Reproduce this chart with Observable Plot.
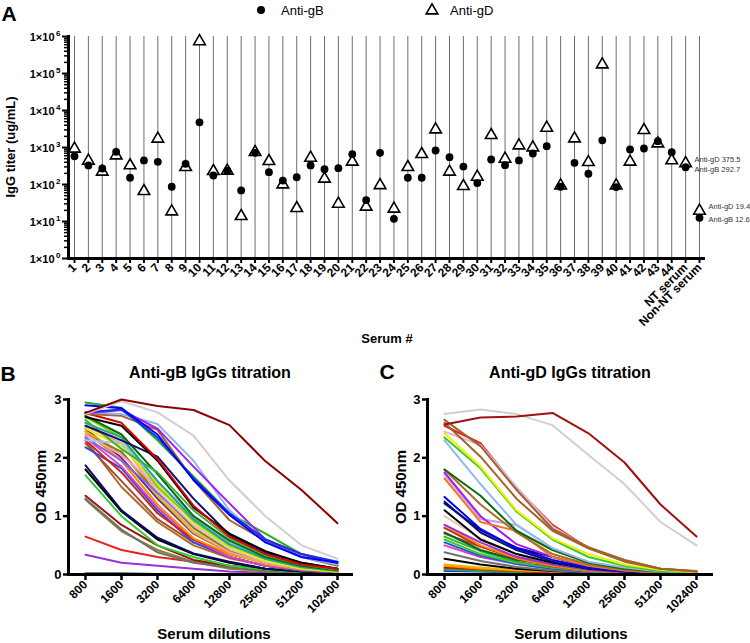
<!DOCTYPE html>
<html><head><meta charset="utf-8">
<script src="https://cdn.jsdelivr.net/npm/d3@7"></script>
<script src="https://cdn.jsdelivr.net/npm/@observablehq/plot@0.6"></script>
<style>
body{margin:0;background:#fff;font-family:"Liberation Sans",Arial,sans-serif;color:#000;}
#root{position:relative;width:750px;height:643px;overflow:hidden;}
#root svg{position:absolute;}
.t{position:absolute;white-space:nowrap;line-height:1;}
</style></head>
<body><div id="root"></div>
<script>
// ---------- DATA ----------
const serums = ["1","2","3","4","5","6","7","8","9","10","11","12","13","14","15","16","17","18","19","20","21","22","23","24","25","26","27","28","29","30","31","32","33","34","35","36","37","38","39","40","41","42","43","44","NT serum","Non-NT serum"];
const antiGB = [580,327,271,766,152,446,411,87,363,4800,175,235,69,720,215,128,157,327,260,276,660,38,718,11.8,152,152,830,547,306,109,474,332,446,688,1086,87,385,195,1560,85,883,940,1480,748,292.7,12.6];
const antiGD = [922,437,220,608,327,66,1718,18.6,294,740000,229,235,13.9,747,427,100,22.9,525,143,30,410,25,95,22,294,660,3060,220,90,161,2150,494,1133,1000,3400,94,1750,400,175000,94,410,2940,1283,446,375.5,19.4];
const yMajor = [1,10,100,1000,10000,100000,1000000];
const dilutions = ["800","1600","3200","6400","12800","25600","51200","102400"];

const gbCurves = [
  [0.02,0.02,0.01,0.01,0.01,0.01,0.01,0.01],
  [0.34,0.20,0.15,0.10,0.05,0.03,0.02,0.01],
  [0.65,0.42,0.30,0.22,0.15,0.08,0.04,0.02],
  [1.28,0.74,0.42,0.22,0.10,0.05,0.02,0.01],
  [1.30,0.77,0.38,0.20,0.12,0.06,0.03,0.02],
  [1.35,0.85,0.50,0.25,0.15,0.08,0.04,0.02],
  [1.70,1.00,0.50,0.30,0.15,0.08,0.04,0.02],
  [1.80,1.08,0.60,0.35,0.20,0.10,0.05,0.03],
  [1.87,1.10,0.63,0.36,0.22,0.10,0.05,0.03],
  [2.30,1.50,0.90,0.50,0.28,0.15,0.07,0.04],
  [2.25,1.60,0.95,0.55,0.30,0.15,0.07,0.03],
  [2.18,1.82,1.10,0.55,0.30,0.15,0.07,0.04],
  [2.35,1.85,1.15,0.60,0.30,0.15,0.08,0.04],
  [2.30,1.75,1.05,0.60,0.35,0.20,0.10,0.05],
  [2.45,1.95,1.20,0.62,0.35,0.20,0.10,0.05],
  [2.50,2.00,1.30,0.70,0.38,0.20,0.10,0.05],
  [2.45,2.10,1.35,0.72,0.38,0.18,0.09,0.05],
  [2.40,2.10,1.40,0.80,0.40,0.20,0.10,0.05],
  [2.55,2.25,1.40,0.75,0.38,0.20,0.10,0.05],
  [2.35,1.95,1.40,0.85,0.45,0.22,0.10,0.05],
  [2.60,2.30,1.45,0.85,0.45,0.22,0.10,0.05],
  [2.40,2.05,1.50,0.95,0.50,0.26,0.12,0.06],
  [2.50,2.20,1.55,0.90,0.48,0.24,0.10,0.05],
  [2.70,2.35,1.50,0.92,0.50,0.27,0.12,0.06],
  [2.30,2.25,1.60,1.00,0.55,0.30,0.15,0.08],
  [2.60,2.35,1.60,0.95,0.52,0.27,0.13,0.07],
  [2.72,2.40,1.72,1.00,0.58,0.30,0.15,0.07],
  [2.65,2.15,1.75,1.10,0.62,0.33,0.17,0.08],
  [2.55,2.30,2.02,1.30,0.68,0.38,0.20,0.10],
  [2.70,2.55,1.95,1.15,0.70,0.40,0.20,0.10],
  [2.77,2.60,1.98,1.18,0.65,0.35,0.17,0.10],
  [2.75,2.72,2.48,1.62,0.93,0.58,0.30,0.15],
  [2.95,2.86,2.30,1.68,1.05,0.70,0.35,0.16],
  [2.78,2.75,2.58,1.95,1.10,0.55,0.30,0.17],
  [2.76,2.82,2.50,1.85,1.22,0.60,0.35,0.20],
  [2.78,2.83,2.35,1.65,1.05,0.60,0.35,0.22],
  [2.90,2.85,2.40,1.62,1.02,0.55,0.30,0.20],
  [2.75,2.97,2.78,2.38,1.61,1.00,0.50,0.27],
  [2.77,3.00,2.89,2.82,2.56,1.94,1.45,0.88]
];
const gbColors = ["#555555","#9b30d9","#e8231f","#8a8a2a","#707070","#a01010","#33cc33","#000000","#0a0a60","#b06a2c","#a0522d","#2f4fd8","#e040c0","#d02020","#ff8c00","#6a2a8a","#e6b800","#808000","#f4a582","#7b68ee","#e8c8b0","#ff99cc","#f2e600","#7fd000","#9ec8f0","#20a0a0","#0a6a0a","#3ab03a","#101070","#000000","#e00000","#a0642b","#22b022","#8fb8ec","#a020f0","#1c2fe0","#0000ff","#cfcfcf","#8b0000"];

const gdCurves = [
  [0.06,0.05,0.03,0.02,0.06,0.06,0.03,0.02],
  [0.08,0.06,0.04,0.03,0.02,0.01,0.01,0.01],
  [0.10,0.07,0.05,0.03,0.02,0.01,0.01,0.01],
  [0.12,0.09,0.06,0.04,0.08,0.05,0.02,0.01],
  [0.15,0.10,0.07,0.05,0.03,0.02,0.01,0.01],
  [0.17,0.12,0.08,0.05,0.03,0.02,0.01,0.01],
  [0.27,0.17,0.10,0.06,0.03,0.02,0.01,0.01],
  [0.38,0.23,0.13,0.07,0.04,0.02,0.01,0.01],
  [0.50,0.30,0.18,0.10,0.05,0.03,0.02,0.01],
  [0.55,0.32,0.18,0.10,0.05,0.03,0.02,0.01],
  [0.60,0.35,0.20,0.12,0.06,0.03,0.02,0.01],
  [0.65,0.40,0.22,0.12,0.06,0.03,0.02,0.01],
  [0.70,0.48,0.30,0.20,0.12,0.07,0.04,0.02],
  [0.72,0.42,0.25,0.18,0.10,0.05,0.02,0.01],
  [0.80,0.48,0.27,0.14,0.07,0.04,0.02,0.01],
  [0.85,0.50,0.28,0.15,0.07,0.04,0.02,0.01],
  [0.85,0.55,0.30,0.17,0.08,0.04,0.02,0.01],
  [1.00,0.62,0.35,0.20,0.10,0.05,0.03,0.02],
  [1.10,0.60,0.35,0.20,0.10,0.05,0.02,0.01],
  [1.22,0.76,0.46,0.30,0.14,0.06,0.03,0.02],
  [1.25,0.72,0.42,0.22,0.10,0.05,0.03,0.02],
  [1.33,0.78,0.45,0.25,0.12,0.06,0.03,0.02],
  [1.72,0.95,0.85,0.45,0.20,0.10,0.05,0.02],
  [1.75,1.00,0.52,0.30,0.15,0.07,0.03,0.02],
  [1.65,0.90,0.75,0.30,0.15,0.07,0.03,0.02],
  [1.80,1.20,0.72,0.35,0.17,0.08,0.04,0.02],
  [1.80,1.35,0.75,0.42,0.20,0.10,0.05,0.02],
  [2.30,1.55,0.85,0.45,0.22,0.12,0.05,0.03],
  [2.35,1.82,1.08,0.60,0.30,0.15,0.06,0.03],
  [2.42,1.85,1.10,0.62,0.35,0.17,0.08,0.04],
  [2.55,2.25,1.48,0.85,0.45,0.24,0.10,0.05],
  [2.45,2.22,1.50,0.82,0.45,0.25,0.10,0.05],
  [2.60,2.02,1.30,0.75,0.45,0.22,0.10,0.05],
  [2.65,2.20,1.45,0.78,0.47,0.25,0.10,0.06],
  [2.75,2.83,2.75,2.56,2.05,1.55,0.90,0.50],
  [2.57,2.69,2.71,2.77,2.42,1.92,1.20,0.65]
];
const gdColors = ["#1c2fe0","#20a0a0","#22b022","#e00000","#ff8c00","#e6b800","#000000","#707070","#e040c0","#2f4fd8","#33cc33","#3ab03a","#a0522d","#0a6a0a","#d02020","#ff8c00","#9b30d9","#e8c8b0","#000000","#0a0a60","#101070","#0000ff","#c8a0e8","#a020f0","#f07820","#b06a2c","#0a6a0a","#8fb8ec","#33cc33","#f2f200","#e8231f","#d8b8d8","#a0642b","#a0642b","#cfcfcf","#a01010"];

// ---------- LAYOUT ----------
const root = document.getElementById("root");
const FONT = "Liberation Sans, Arial, sans-serif";
function txt(s, x, y, size, o = {}) {
  const d = document.createElement("div");
  d.className = "t";
  d.textContent = s;
  const ax = o.anchor === "start" ? "0" : "-50%";
  d.style.cssText += `left:${x}px;top:${y}px;font-size:${size}px;font-weight:${o.weight || "bold"};transform:translate(${ax},-50%) rotate(${o.rot || 0}deg);`;
  root.appendChild(d);
}
function place(svg, left, top) {
  svg.style.left = left + "px";
  svg.style.top = top + "px";
  root.appendChild(svg);
}

// ---------- PANEL A ----------
const rows = serums.map((s, i) => ({s, gB: antiGB[i], gD: antiGD[i]}));
const minors = [];
for (let k = 0; k < 6; k++) for (let m = 2; m <= 9; m++) minors.push(m * 10 ** k);
const nt = rows.slice(-2);

const plotA = Plot.plot({
  width: 750, height: 345,
  marginTop: 36, marginBottom: 87, marginLeft: 68, marginRight: 45,
  style: {fontFamily: FONT, fontWeight: "bold", fontSize: "11px", color: "#000", background: "transparent"},
  x: {type: "point", domain: serums, range: [74, 699], padding: 0},
  y: {type: "log", domain: [1, 1e6], range: [258, 36]},
  marks: [
    Plot.ruleX(serums, {x: d => d, y1: 1, y2: 1e6, stroke: "#6e6e6e", strokeWidth: 1}),
    Plot.axisY({ticks: minors, tickSize: 4, tickFormat: () => "", label: null, strokeWidth: 1.5}),
    Plot.axisY({ticks: yMajor, tickSize: 6, strokeWidth: 2, label: null, tickFormat: () => ""}),
    Plot.text(yMajor, {y: d => d, frameAnchor: "left", dx: -14, dy: 1, textAnchor: "end", text: () => "1×10", fontSize: 11}),
    Plot.text(yMajor, {y: d => d, frameAnchor: "left", dx: -8, dy: -3, textAnchor: "end", text: d => String(Math.round(Math.log10(d))), fontSize: 8}),
    Plot.axisX({tickRotate: -45, tickSize: 5, tickPadding: 2, strokeWidth: 2, label: null, fontSize: 12}),
    Plot.frame({anchor: "left", strokeWidth: 3}),
    Plot.ruleY([1], {strokeWidth: 3}),
    Plot.dot(rows, {x: "s", y: "gD", symbol: "triangle", r: 4.3, fill: "white", stroke: "black", strokeWidth: 1.6}),
    Plot.dot(rows, {x: "s", y: "gB", symbol: "circle", r: 3.9, fill: "black"}),
    Plot.text(nt, {x: "s", y: "gD", text: d => "Anti-gD " + d.gD, textAnchor: "start", dx: 9, dy: -4, fontSize: 7.5, fontWeight: "normal", fill: "#333"}),
    Plot.text(nt, {x: "s", y: "gB", text: d => "Anti-gB " + d.gB, textAnchor: "start", dx: 9, dy: 2, fontSize: 7.5, fontWeight: "normal", fill: "#333"})
  ]
});
place(plotA, 0, 0);

// legend
const leg = d3.create("svg").attr("width", 750).attr("height", 22).style("left", "0px").style("top", "0px");
leg.append("circle").attr("cx", 261).attr("cy", 10).attr("r", 4).attr("fill", "black");
leg.append("path").attr("d", d3.symbol(d3.symbolTriangle, Math.PI * 4.3 * 4.3)).attr("transform", "translate(432,10.5)")
  .attr("fill", "white").attr("stroke", "black").attr("stroke-width", 1.6);
root.appendChild(leg.node());
txt("Anti-gB", 281, 10, 13, {anchor: "start", weight: "normal"});
txt("Anti-gD", 450, 10, 13, {anchor: "start", weight: "normal"});

txt("A", 9, 13, 21);
txt("IgG titer (ug/mL)", 10, 147, 13, {rot: -90});
txt("Serum #", 387, 338, 13);

// ---------- PANELS B & C ----------
function curves(data, colors, ml, mr, xr) {
  const pts = data.flatMap((vals, i) => vals.map((v, j) => ({k: i, d: dilutions[j], v, c: colors[i]})));
  return Plot.plot({
    width: 375, height: 258,
    marginTop: 14, marginBottom: 69, marginLeft: ml, marginRight: mr,
    style: {fontFamily: FONT, fontWeight: "bold", fontSize: "12px", color: "#000", background: "transparent"},
    x: {type: "point", domain: dilutions, range: xr, padding: 0},
    y: {domain: [0, 3], range: [189, 14]},
    color: {type: "identity"},
    marks: [
      Plot.line(pts, {x: "d", y: "v", z: "k", stroke: "c", strokeWidth: 2}),
      Plot.axisY({ticks: [0, 1, 2, 3], tickFormat: d => String(d), tickSize: 5, tickPadding: 2, strokeWidth: 2.5, label: null, fontSize: 13}),
      Plot.axisX({tickRotate: -45, tickSize: 6, tickPadding: 2, strokeWidth: 2.5, label: null, fontSize: 12}),
      Plot.frame({anchor: "left", strokeWidth: 3}),
      Plot.ruleY([0], {strokeWidth: 3})
    ]
  });
}
place(curves(gbCurves, gbColors, 68, 22, [85, 337]), 0, 385);
place(curves(gdCurves, gdColors, 52, 37, [69, 321]), 375, 385);

txt("B", 8, 373, 21);
txt("Anti-gB IgGs titration", 210, 373, 16);
txt("OD 450nm", 40, 487, 15, {rot: -90});
txt("Serum dilutions", 214, 633, 15);

txt("C", 387, 371, 21);
txt("Anti-gD IgGs titration", 570, 373, 16);
txt("OD 450nm", 400, 487, 15, {rot: -90});
txt("Serum dilutions", 571, 633, 15);
</script>
</body></html>
